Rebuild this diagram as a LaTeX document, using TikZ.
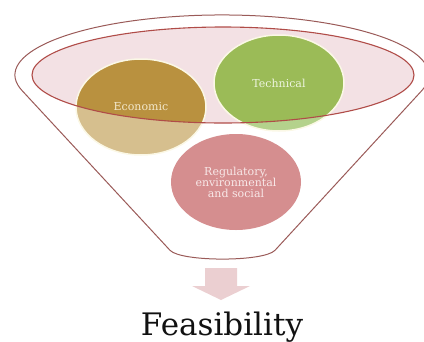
\documentclass[tikz,border=0pt]{standalone}
\usepackage{fontspec}
\setmainfont{DejaVu Serif}
\usetikzlibrary{shapes.geometric}
\definecolor{funnelline}{HTML}{9A5A58}
\definecolor{ellfill}{HTML}{F3E1E4}
\definecolor{ellline}{HTML}{B04C48}
\definecolor{ecodark}{HTML}{B9913F}
\definecolor{ecolight}{HTML}{D6BF8E}
\definecolor{tecdark}{HTML}{9BBB57}
\definecolor{teclight}{HTML}{B4D28C}
\definecolor{regcol}{HTML}{D58E8F}
\definecolor{cream}{HTML}{FBF8E6}
\definecolor{ecotext}{HTML}{F3E8CC}
\definecolor{tectext}{HTML}{EEF5E0}
\definecolor{regtext}{HTML}{F8E8E8}
\definecolor{arrowcol}{HTML}{EBCFD1}
\definecolor{feastext}{HTML}{111111}
\tikzset{
  circ/.style={ellipse, minimum width=130pt, minimum height=96pt, inner sep=0pt, outer sep=0pt},
  circfill/.style={x radius=65pt, y radius=48pt},
  smalltext/.style={font=\fontsize{11}{11}\selectfont, align=center},
}
\begin{document}
\begin{tikzpicture}[x=1pt,y=-1pt]
\useasboundingbox (0,0) rectangle (424,341);
% funnel outline
\coordinate (lt) at (22,90.5);
\coordinate (lb) at (170,250.3);
\coordinate (rb) at (275,250.3);
\draw[funnelline, line width=1pt] (lt) arc[start angle=195, end angle=-15, x radius=207pt, y radius=60pt] -- (rb) .. controls (264,262) and (181,262) .. (lb) -- cycle;
% inner ellipse fill
\coordinate (ic) at (223,75);
\fill[ellfill] (ic) ellipse [x radius=191pt, y radius=48pt];
% circle fills
\coordinate (ecoc) at (141,107);
\coordinate (tecc) at (279,83);
\fill[ecolight] (ecoc) ellipse [circfill];
\fill[teclight] (tecc) ellipse [circfill];
\begin{scope}
  \clip (ic) ellipse [x radius=191pt, y radius=48pt];
  \fill[ecodark] (ecoc) ellipse [circfill];
  \fill[tecdark] (tecc) ellipse [circfill];
\end{scope}
\draw[cream, line width=1.5pt] (ecoc) ellipse [circfill];
\draw[cream, line width=1.5pt] (tecc) ellipse [circfill];
% inner ellipse border
\draw[ellline, line width=1.1pt] (ic) ellipse [x radius=191pt, y radius=48pt];
% labels
\node[circ, smalltext, text=ecotext] (eco) at (ecoc) {Economic};
\node[circ, smalltext, text=tectext] (tec) at (tecc) {Technical};
\node[circ, smalltext, fill=regcol, text=regtext] (reg) at (236,182) {Regulatory,\\environmental\\and social};
% arrow
\fill[arrowcol] (205,268) -- (237,268) -- (237,286) -- (250,286) -- (221,300) -- (192,286) -- (205,286) -- cycle;
\node[font=\fontsize{31}{31}\selectfont, anchor=base, text=feastext, inner sep=0pt] (feas) at (222,335) {Feasibility};
\end{tikzpicture}
\end{document}
